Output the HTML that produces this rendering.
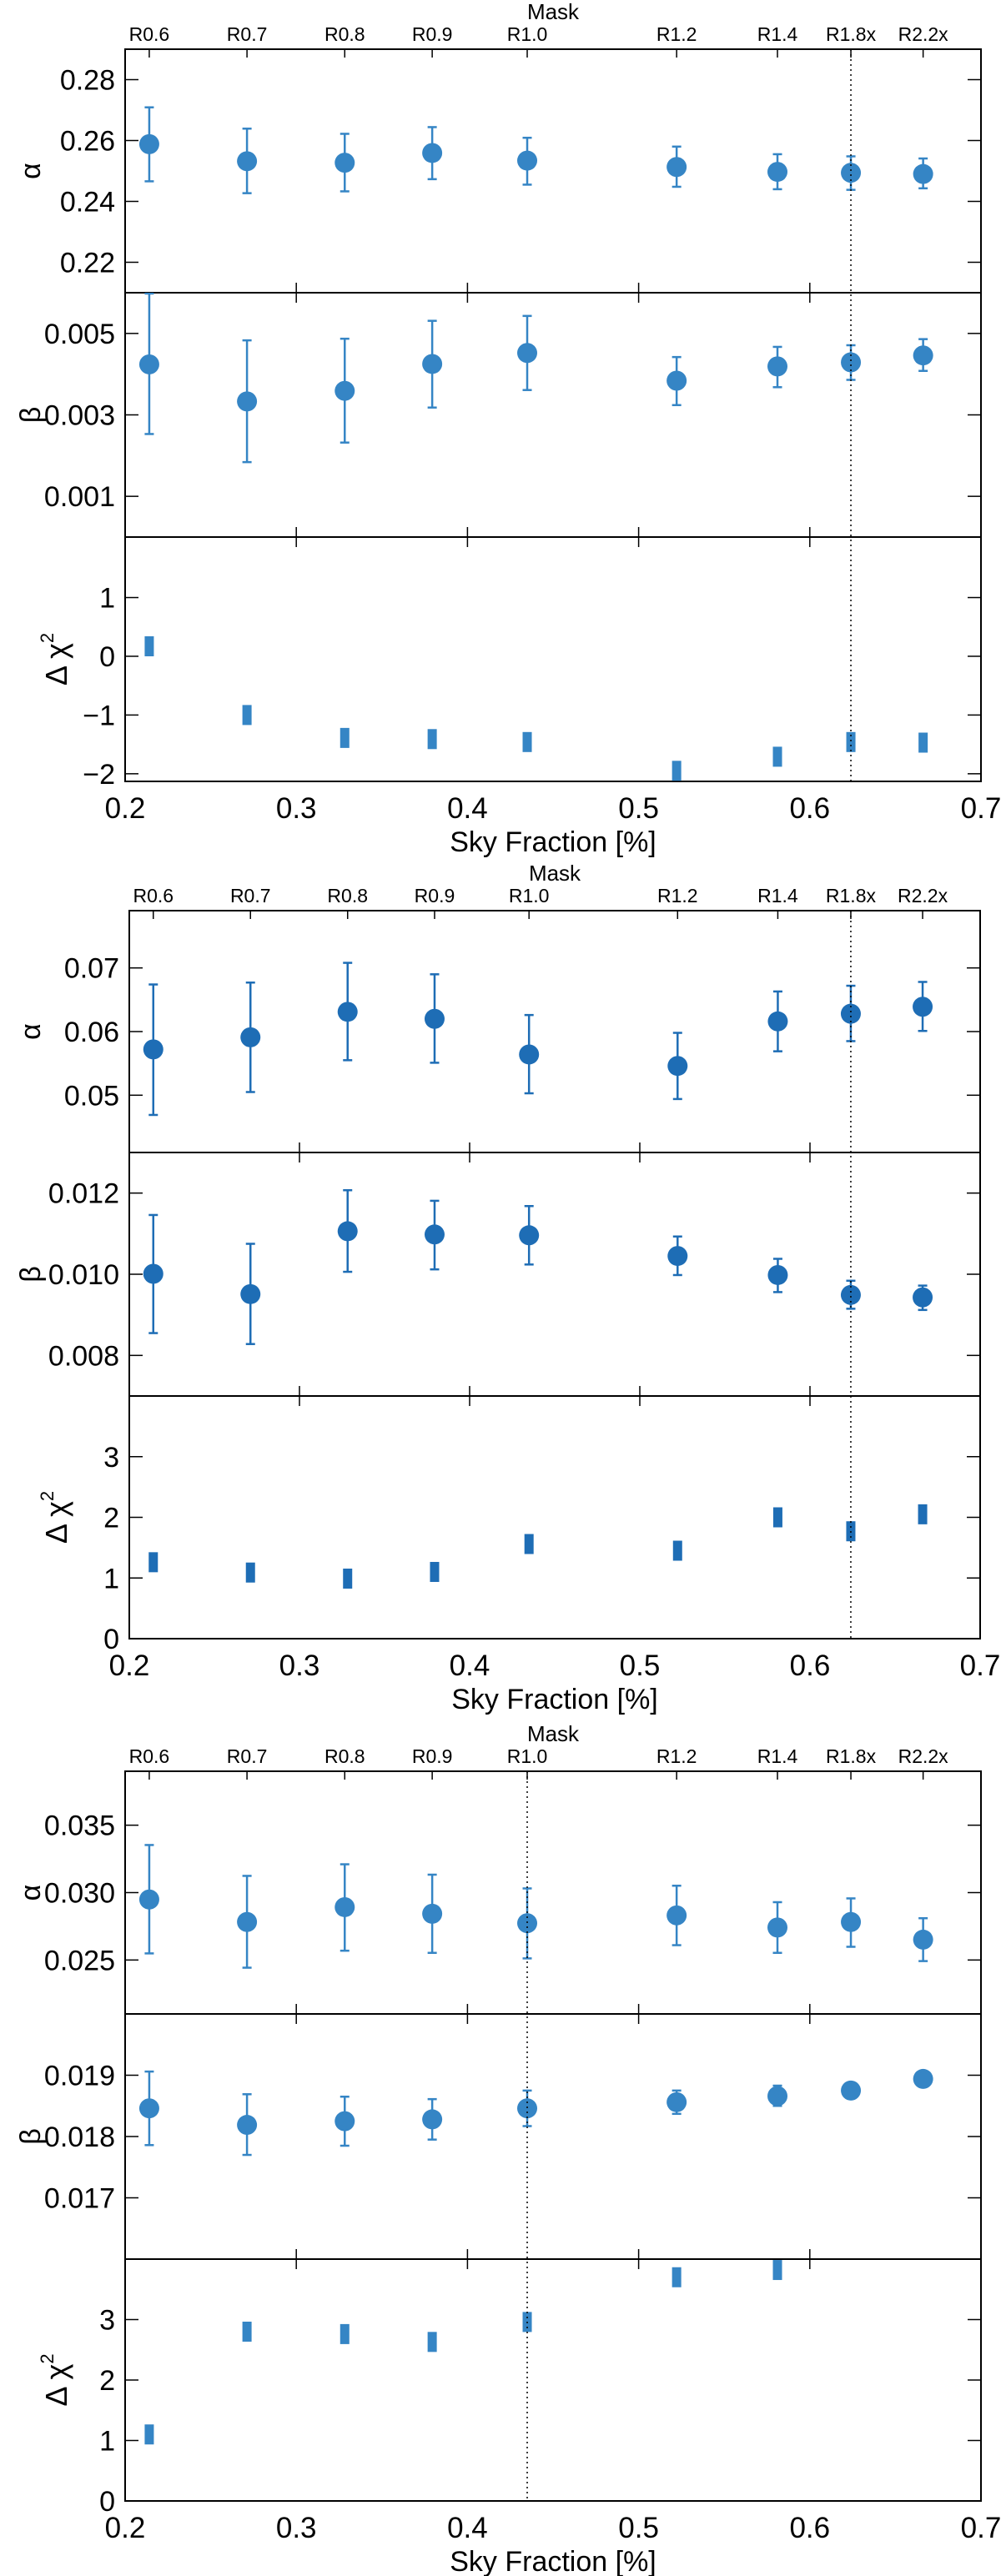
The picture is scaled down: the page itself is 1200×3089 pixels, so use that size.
<!DOCTYPE html>
<html><head><meta charset="utf-8">
<style>
body{margin:0;background:#fff;}
svg{display:block;font-family:"Liberation Sans",sans-serif;}
</style></head>
<body>
<svg id="chart" width="1200" height="3089" viewBox="0 0 1200 3089" xmlns="http://www.w3.org/2000/svg"></svg>
<script>
const maskLabels = ["R0.6","R0.7","R0.8","R0.9","R1.0","R1.2","R1.4","R1.8x","R2.2x"];
const skyFrac = [0.2141,0.2712,0.3283,0.3794,0.4349,0.5222,0.5811,0.6240,0.6662];
const xTicks = [0.2,0.3,0.4,0.5,0.6,0.7];

const f1Alpha   = [0.2588,0.2532,0.2527,0.2559,0.2534,0.2513,0.2497,0.2494,0.2490];
const f1AlphaHi = [0.2709,0.2639,0.2622,0.2644,0.2609,0.2580,0.2555,0.2548,0.2541];
const f1AlphaLo = [0.2466,0.2427,0.2433,0.2473,0.2455,0.2448,0.2440,0.2438,0.2443];
const f1Beta    = [0.00424,0.00333,0.00359,0.00425,0.00452,0.00384,0.00419,0.00429,0.00446];
const f1BetaHi  = [0.00598,0.00483,0.00487,0.00531,0.00543,0.00442,0.00467,0.00471,0.00486];
const f1BetaLo  = [0.00253,0.00184,0.00232,0.00318,0.00361,0.00324,0.00368,0.00386,0.00408];
const f1Chi     = [0.17,-1.00,-1.39,-1.41,-1.46,-1.95,-1.71,-1.46,-1.47];

const f2Alpha   = [0.0572,0.0591,0.0631,0.0620,0.0564,0.0546,0.0616,0.0628,0.0639];
const f2AlphaHi = [0.0674,0.0677,0.0708,0.0690,0.0626,0.0598,0.0663,0.0672,0.0678];
const f2AlphaLo = [0.0469,0.0505,0.0555,0.0551,0.0503,0.0494,0.0569,0.0585,0.0601];
const f2Beta    = [0.01001,0.00951,0.01106,0.01098,0.01096,0.01045,0.00998,0.00949,0.00943];
const f2BetaHi  = [0.01146,0.01075,0.01207,0.01181,0.01168,0.01093,0.01038,0.00984,0.00972];
const f2BetaLo  = [0.00855,0.00828,0.01006,0.01012,0.01024,0.00998,0.00956,0.00915,0.00912];
const f2Chi     = [1.26,1.09,0.99,1.10,1.56,1.45,2.00,1.77,2.05];

const f3Alpha   = [0.02949,0.02782,0.02892,0.02843,0.02773,0.02831,0.02741,0.02782,0.02651];
const f3AlphaHi = [0.03353,0.03124,0.03210,0.03133,0.03031,0.03051,0.02929,0.02957,0.02810];
const f3AlphaLo = [0.02549,0.02443,0.02569,0.02553,0.02512,0.02610,0.02553,0.02598,0.02492];
const f3Beta    = [0.01846,0.01819,0.01825,0.01828,0.01846,0.01856,0.01866,0.01875,0.01894];
const f3BetaHi  = [0.01906,0.01869,0.01865,0.01861,0.01875,0.01875,0.01883,0.01885,0.01901];
const f3BetaLo  = [0.01786,0.01770,0.01785,0.01795,0.01817,0.01837,0.01850,0.01866,0.01886];
const f3Chi     = [1.10,2.80,2.76,2.63,2.96,3.70,3.82,null,null];

const f1AlphaTicks=[0.22,0.24,0.26,0.28], f1AlphaTickLabels=["0.22","0.24","0.26","0.28"];
const f1BetaTicks=[0.001,0.003,0.005], f1BetaTickLabels=["0.001","0.003","0.005"];
const f1ChiTicks=[-2,-1,0,1], f1ChiTickLabels=["\u22122","\u22121","0","1"];
const f2AlphaTicks=[0.05,0.06,0.07], f2AlphaTickLabels=["0.05","0.06","0.07"];
const f2BetaTicks=[0.008,0.010,0.012], f2BetaTickLabels=["0.008","0.010","0.012"];
const f2ChiTicks=[0,1,2,3], f2ChiTickLabels=["0","1","2","3"];
const f3AlphaTicks=[0.025,0.030,0.035], f3AlphaTickLabels=["0.025","0.030","0.035"];
const f3BetaTicks=[0.017,0.018,0.019], f3BetaTickLabels=["0.017","0.018","0.019"];
const f3ChiTicks=[0,1,2,3], f3ChiTickLabels=["0","1","2","3"];

const NS="http://www.w3.org/2000/svg";
const svg=document.getElementById('chart');
function mk(tag,attrs,parent){const e=document.createElementNS(NS,tag);for(const k in attrs)e.setAttribute(k,attrs[k]);(parent||svg).appendChild(e);return e;}

function drawFigure(id,L,R,T,B1,B2,B,color,refIdx,panels){
  const g=mk('g',{});
  
  
  const xs=v=>L+(v-0.2)/0.5*(R-L);
  const bounds=[[T,B1],[B1,B2],[B2,B]];
  // mask labels
  const mt=mk('text',{x:(L+R)/2,y:T-36,'font-size':26,'text-anchor':'middle'},g);
  mt.textContent='Mask';
  
  
  maskLabels.forEach((m,i)=>{
    const t=mk('text',{x:xs(skyFrac[i]),y:T-10,'font-size':23,'text-anchor':'middle'},g);
    t.textContent=m;
    
    
    mk('line',{x1:xs(skyFrac[i]),x2:xs(skyFrac[i]),y1:T,y2:T+10,stroke:'#000','stroke-width':1.5},g);
  });
  panels.forEach((p,pi)=>{
    const [pt,pb]=bounds[pi];
    const ys=v=>pb-(v-p.min)/(p.max-p.min)*(pb-pt);
    const pg=mk('g',{},g);
    
    
    mk('rect',{x:L,y:pt,width:R-L,height:pb-pt,fill:'none',stroke:'#000','stroke-width':2},pg);
    p.ticks.forEach((tv,ti)=>{
      const y=ys(tv);
      mk('line',{x1:L,x2:L+16,y1:y,y2:y,stroke:'#000','stroke-width':1.5},pg);
      mk('line',{x1:R-16,x2:R,y1:y,y2:y,stroke:'#000','stroke-width':1.5},pg);
      const t=mk('text',{x:L-12,y:y+12,'font-size':34,'text-anchor':'end'},pg);
      t.textContent=p.labels[ti];
      
      
    });
    xTicks.forEach(xv=>{
      const x=xs(xv);
      if(pi>0) mk('line',{x1:x,x2:x,y1:pt,y2:pt+12,stroke:'#000','stroke-width':1.5},pg);
      if(pi<2) mk('line',{x1:x,x2:x,y1:pb-12,y2:pb,stroke:'#000','stroke-width':1.5},pg);
    });
    // y title
    const cy=(pt+pb)/2;
    if(p.kind==='chi'){
      const t=mk('text',{x:0,y:0,'font-size':36,'text-anchor':'middle',transform:`translate(80,${cy}) rotate(-90)`},pg);
      t.innerHTML='\u0394 \u03c7<tspan dy="-16" font-size="22">2</tspan>';
      
      
    } else {
      const t=mk('text',{x:0,y:0,'font-size':34,'text-anchor':'middle',transform:`translate(48,${cy}) rotate(-90)`},pg);
      t.textContent=p.kind==='alpha'?'\u03b1':'\u03b2';
      
      
    }
    const clip='clip-'+id+'-'+pi;
    const cp=mk('clipPath',{id:clip},pg);
    mk('rect',{x:L,y:pt,width:R-L,height:pb-pt},cp);
    const dg=mk('g',{'clip-path':`url(#${clip})`},pg);
    p.vals.forEach((v,i)=>{
      if(v===null||v===undefined) return;
      const x=xs(skyFrac[i]);
      if(p.kind==='chi'){
        const r=mk('rect',{x:x-5.5,y:ys(v)-12,width:11,height:24,fill:color},dg);
        
        
      } else {
        const yh=ys(p.hi[i]),yl=ys(p.lo[i]);
        mk('line',{x1:x,x2:x,y1:yh,y2:yl,stroke:color,'stroke-width':2.5},dg);
        mk('line',{x1:x-5.5,x2:x+5.5,y1:yh,y2:yh,stroke:color,'stroke-width':2.5},dg);
        mk('line',{x1:x-5.5,x2:x+5.5,y1:yl,y2:yl,stroke:color,'stroke-width':2.5},dg);
        const c=mk('circle',{cx:x,cy:ys(v),r:12,fill:color},dg);
        
        
      }
    });
  });
  // reference dotted line
  const rx=xs(skyFrac[refIdx]);
  const dl=mk('line',{x1:rx,x2:rx,y1:T,y2:B,stroke:'#000','stroke-width':1.5,'stroke-dasharray':'2,4'},g);
  
  
  xTicks.forEach(xv=>{
    const t=mk('text',{x:xs(xv),y:B+44,'font-size':35,'text-anchor':'middle'},g);
    t.textContent=xv.toFixed(1);
    
    
  });
  const xt=mk('text',{x:(L+R)/2,y:B+84,'font-size':34,'text-anchor':'middle'},g);
  xt.textContent='Sky Fraction [%]';
  
  
}

drawFigure('figure-1',150,1176,59,351,644,937,'#3585c5',7,[
 {name:'alpha-panel-1',kind:'alpha',min:0.21,max:0.29,ticks:f1AlphaTicks,labels:f1AlphaTickLabels,vals:f1Alpha,hi:f1AlphaHi,lo:f1AlphaLo},
 {name:'beta-panel-1',kind:'beta',min:0,max:0.006,ticks:f1BetaTicks,labels:f1BetaTickLabels,vals:f1Beta,hi:f1BetaHi,lo:f1BetaLo},
 {name:'chi-panel-1',kind:'chi',min:-2.13,max:2.03,ticks:f1ChiTicks,labels:f1ChiTickLabels,vals:f1Chi}
]);
drawFigure('figure-2',155,1175,1092,1382,1674,1965,'#1e6db5',7,[
 {name:'alpha-panel-2',kind:'alpha',min:0.041,max:0.079,ticks:f2AlphaTicks,labels:f2AlphaTickLabels,vals:f2Alpha,hi:f2AlphaHi,lo:f2AlphaLo},
 {name:'beta-panel-2',kind:'beta',min:0.007,max:0.013,ticks:f2BetaTicks,labels:f2BetaTickLabels,vals:f2Beta,hi:f2BetaHi,lo:f2BetaLo},
 {name:'chi-panel-2',kind:'chi',min:0,max:4,ticks:f2ChiTicks,labels:f2ChiTickLabels,vals:f2Chi}
]);
drawFigure('figure-3',150,1176,2124,2415,2709,2999,'#3585c5',4,[
 {name:'alpha-panel-3',kind:'alpha',min:0.021,max:0.039,ticks:f3AlphaTicks,labels:f3AlphaTickLabels,vals:f3Alpha,hi:f3AlphaHi,lo:f3AlphaLo},
 {name:'beta-panel-3',kind:'beta',min:0.016,max:0.020,ticks:f3BetaTicks,labels:f3BetaTickLabels,vals:f3Beta,hi:f3BetaHi,lo:f3BetaLo},
 {name:'chi-panel-3',kind:'chi',min:0,max:4,ticks:f3ChiTicks,labels:f3ChiTickLabels,vals:f3Chi}
]);
</script>
</body></html>
